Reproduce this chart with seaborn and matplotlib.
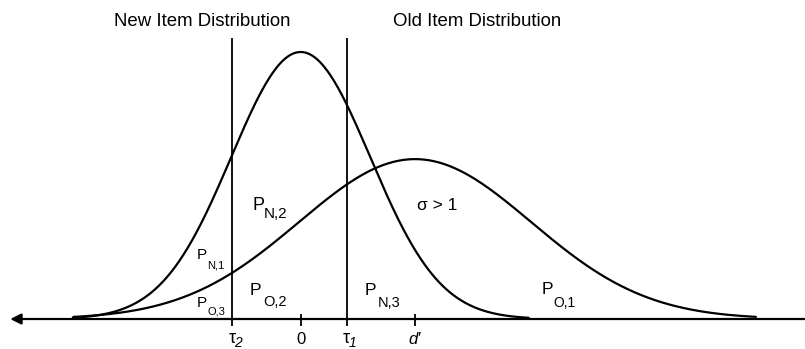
import numpy as np
import pandas as pd
import matplotlib
matplotlib.use("Agg")
import matplotlib.pyplot as plt
import matplotlib.transforms as mtransforms
import seaborn as sns

# Signal-detection model: two normal curves on a strength axis
means = [0.0, 1.645]            # new items, old items (d')
sds = [1.0, 1.67]               # old-item sd larger (sigma > 1)
span_lo = [-3.28, -3.27]        # drawn extent of each curve
span_hi = [3.28, 6.55]
names = ["New Item Distribution", "Old Item Distribution"]
criteria = [-0.99, 0.66]        # tau_2, tau_1
crit_subs = ["2", "1"]

sns.set_style("white")
plt.rcParams["font.family"] = ["Liberation Sans", "DejaVu Sans"]
plt.rcParams["text.color"] = "black"

fig = plt.figure(figsize=(8.05, 3.49), dpi=100)
ax = fig.add_axes([0, 0, 1, 1])
ax.set_xlim(-4.327, 7.256)
ax.set_ylim(-0.0448, 0.4766)
ax.axis("off")

rows = []
for name, m, s, lo, hi in zip(names, means, sds, span_lo, span_hi):
    xs = np.linspace(lo, hi, 400)
    ys = np.exp(-0.5 * ((xs - m) / s) ** 2) / (s * np.sqrt(2 * np.pi))
    rows.append(pd.DataFrame({"x": xs, "density": ys, "dist": name}))
curves = pd.concat(rows, ignore_index=True)
sns.lineplot(data=curves, x="x", y="density", units="dist", estimator=None,
             color="black", lw=1.6, ax=ax, sort=False)

# strength axis with arrow pointing left
ax.annotate("", xy=(-4.18, 0), xytext=(7.3, 0),
            arrowprops=dict(arrowstyle="-|>", lw=1.6, color="black",
                            mutation_scale=16, shrinkA=0, shrinkB=0))

# decision criteria and tick marks
ax.vlines(criteria, -0.0105, 0.42, color="black", lw=1.3)
ax.vlines([means[0], means[1]], -0.0105, 0.0075, color="black", lw=1.3)

def offset(dx, dy):
    return mtransforms.offset_copy(ax.transData, fig=fig, x=dx, y=dy, units="dots")

# tick labels
ax.text(means[0], -0.0194, "0", fontsize=12, ha="center", va="top")
ax.text(means[1], -0.0194, "d\u2032", fontsize=12, ha="center", va="top", style="italic")
for c, sub in zip(criteria, crit_subs):
    ax.text(c, -0.0164, "\u03c4", fontsize=13, ha="center", va="top")
    ax.text(c, -0.0164, sub, fontsize=10, ha="left", va="top", style="italic",
            transform=offset(2, -6))

# distribution titles
ax.text(-1.41, 0.438, names[0], fontsize=13.4, ha="center", va="baseline")
ax.text(2.535, 0.438, names[1], fontsize=13.4, ha="center", va="baseline")

# region proportions
def region(x, y, sub, size=12, subsize=10, dx=11, dy=-12):
    ax.text(x, y, "P", fontsize=size, ha="left", va="baseline")
    ax.text(x, y, sub, fontsize=subsize, ha="left", va="baseline",
            transform=offset(dx, dy))

region(-0.70, 0.163, "N,2", size=13, subsize=11, dx=12, dy=-8)
region(-1.49, 0.0896, "N,1", size=11, subsize=8, dx=10, dy=-9)
region(-1.49, 0.018, "O,3", size=11, subsize=8, dx=10, dy=-8)
region(-0.73, 0.036, "O,2", size=12.5, subsize=10.5, dx=13, dy=-11)
region(0.925, 0.036, "N,3", size=12.5, subsize=10.5, dx=13, dy=-12)
region(3.47, 0.0374, "O,1", size=12.5, subsize=10, dx=11, dy=-13)

ax.text(1.675, 0.170, "\u03c3 > 1", fontsize=12.5, ha="left", va="center")

fig.savefig("out.png", dpi=100)
